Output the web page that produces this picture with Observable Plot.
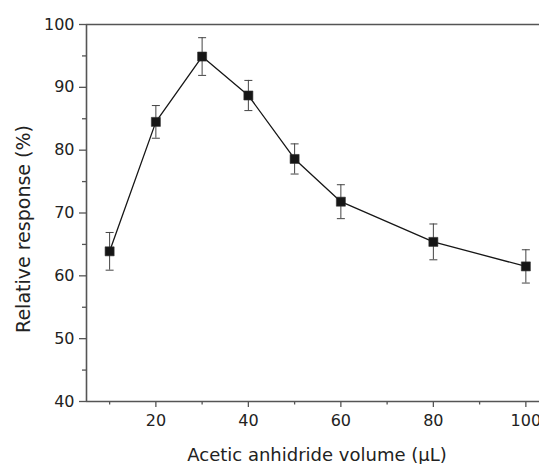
<!DOCTYPE html>
<html>
<head>
<meta charset="utf-8">
<script src="https://cdn.jsdelivr.net/npm/d3@7"></script>
<script src="https://cdn.jsdelivr.net/npm/@observablehq/plot@0.6"></script>
<style>
  html, body { margin: 0; padding: 0; background: #fff; }
</style>
</head>
<body>
<div id="chart"></div>
<script>
const volume = [10, 20, 30, 40, 50, 60, 80, 100];
const response = [63.9, 84.5, 94.9, 88.7, 78.6, 71.8, 65.4, 61.5];
const errorBar = [3.0, 2.6, 3.0, 2.4, 2.4, 2.7, 2.85, 2.65];
const xTicks = [20, 40, 60, 80, 100];
const xMinorTicks = [10, 30, 50, 70, 90];
const yTicks = [40, 50, 60, 70, 80, 90, 100];
const yMinorTicks = [45, 55, 65, 75, 85, 95];
const xTitle = "Acetic anhidride volume (\u03BCL)";
const yTitle = "Relative response (%)";

const data = volume.map((v, i) => ({
  v, r: response[i], lo: response[i] - errorBar[i], hi: response[i] + errorBar[i]
}));

const axisColor = "#555";
const capSymbol = {
  draw(context, size) {
    const w = 4;
    context.moveTo(-w, 0);
    context.lineTo(w, 0);
  }
};

const chart = Plot.plot({
  width: 539,
  height: 464,
  marginLeft: 86,
  marginRight: 0,
  marginTop: 24,
  marginBottom: 63,
  style: { fontFamily: "DejaVu Sans", fontSize: "16px", color: "#222", background: "#fff" },
  x: { domain: [5, 102.95] },
  y: { domain: [40, 100] },
  marks: [
    Plot.axisX({ ticks: xTicks, tickSize: 6, tickPadding: 7, label: null, stroke: axisColor, strokeWidth: 1.3, fill: "#222" }),
    Plot.axisX({ ticks: xMinorTicks, tickSize: 3.5, text: null, label: null, stroke: axisColor, strokeWidth: 1.3 }),
    Plot.axisY({ ticks: yTicks, tickSize: 7, tickPadding: 5, label: null, stroke: axisColor, strokeWidth: 1.3, fill: "#222" }),
    Plot.axisY({ ticks: yMinorTicks, tickSize: 4, text: null, label: null, stroke: axisColor, strokeWidth: 1.3 }),
    Plot.ruleX([5], { stroke: axisColor, strokeWidth: 1.6 }),
    Plot.ruleY([40], { stroke: axisColor, strokeWidth: 1.6 }),
    Plot.ruleY([100], { stroke: axisColor, strokeWidth: 1.6 }),
    Plot.ruleX(data, { x: "v", y1: "lo", y2: "hi", stroke: "#444", strokeWidth: 1 }),
    Plot.dot(data, { x: "v", y: "lo", symbol: capSymbol, stroke: "#444", strokeWidth: 1, r: 4 }),
    Plot.dot(data, { x: "v", y: "hi", symbol: capSymbol, stroke: "#444", strokeWidth: 1, r: 4 }),
    Plot.line(data, { x: "v", y: "r", stroke: "#161616", strokeWidth: 1.3 }),
    Plot.dot(data, { x: "v", y: "r", symbol: "square", r: 5.1, fill: "#161616", stroke: "#333", strokeWidth: 0.6 }),
    Plot.text([xTitle], { text: d => d, frameAnchor: "bottom", dx: 4, dy: 54, lineAnchor: "middle", fontSize: 18, fill: "#222" }),
    Plot.text([yTitle], { text: d => d, frameAnchor: "left", dx: -63, dy: 16, rotate: -90, lineAnchor: "middle", textAnchor: "middle", fontSize: 19, fill: "#222" })
  ]
});

document.getElementById("chart").appendChild(chart);
</script>
</body>
</html>
